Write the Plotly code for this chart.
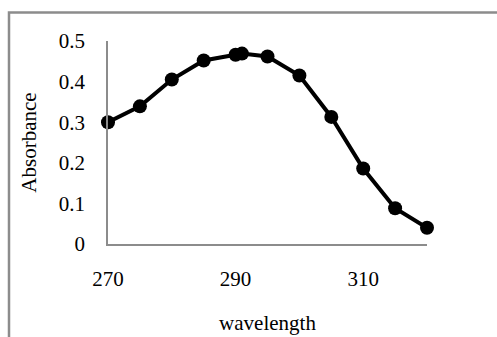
import plotly.graph_objects as go

wavelength = [270, 275, 280, 285, 290, 291, 295, 300, 305, 310, 315, 320]
absorbance = [0.300, 0.339, 0.405, 0.452, 0.466, 0.469, 0.462, 0.415, 0.313, 0.186, 0.088, 0.040]
x_ticks = [270, 290, 310]
y_ticks = [0, 0.1, 0.2, 0.3, 0.4, 0.5]

W, H = 497, 337
L, R, T, B = 108, 70, 41, 93
pw, ph = W - L - R, H - T - B

fig = go.Figure()
fig.add_trace(go.Scatter(
    x=wavelength, y=absorbance, mode="lines+markers",
    line=dict(color="black", width=4),
    marker=dict(color="black", size=14),
    cliponaxis=False, showlegend=False,
))

tick_font = dict(family="Liberation Serif", size=21, color="#000")
title_font = dict(family="Liberation Serif", size=21, color="#000")

fig.update_layout(
    width=W, height=H,
    margin=dict(l=L, r=R, t=T, b=B, pad=0, autoexpand=False),
    paper_bgcolor="white", plot_bgcolor="white",
    font=tick_font,
    xaxis=dict(
        range=[270, 320], tickvals=x_ticks, ticktext=[str(v) for v in x_ticks],
        showgrid=False, zeroline=False, showline=True, linecolor="#8c8c8c", linewidth=1.5,
        ticks="", ticklabelstandoff=15, tickfont=tick_font, automargin=False,
        title=dict(text="wavelength", font=title_font, standoff=25),
    ),
    yaxis=dict(
        range=[0, 0.5], tickvals=y_ticks, ticktext=["0", "0.1", "0.2", "0.3", "0.4", "0.5"],
        showgrid=False, zeroline=False, showline=True, linecolor="#8c8c8c", linewidth=1.5,
        ticks="", ticklabelstandoff=17, tickfont=tick_font, automargin=False,
        title=dict(text="Absorbance", font=title_font, standoff=16),
    ),
    shapes=[dict(
        type="rect", xref="paper", yref="paper",
        x0=(9 - L) / pw, x1=(W + 10 - L) / pw,
        y0=(H - B - (H + 10)) / ph, y1=(H - B - 12.5) / ph,
        line=dict(color="#8c8c8c", width=2.5), fillcolor="rgba(0,0,0,0)", layer="below",
    )],
)

fig.write_html(
    "out.html",
    config={"displayModeBar": False},
    post_script="document.body.style.margin='0';document.body.style.overflow='hidden';",
)
